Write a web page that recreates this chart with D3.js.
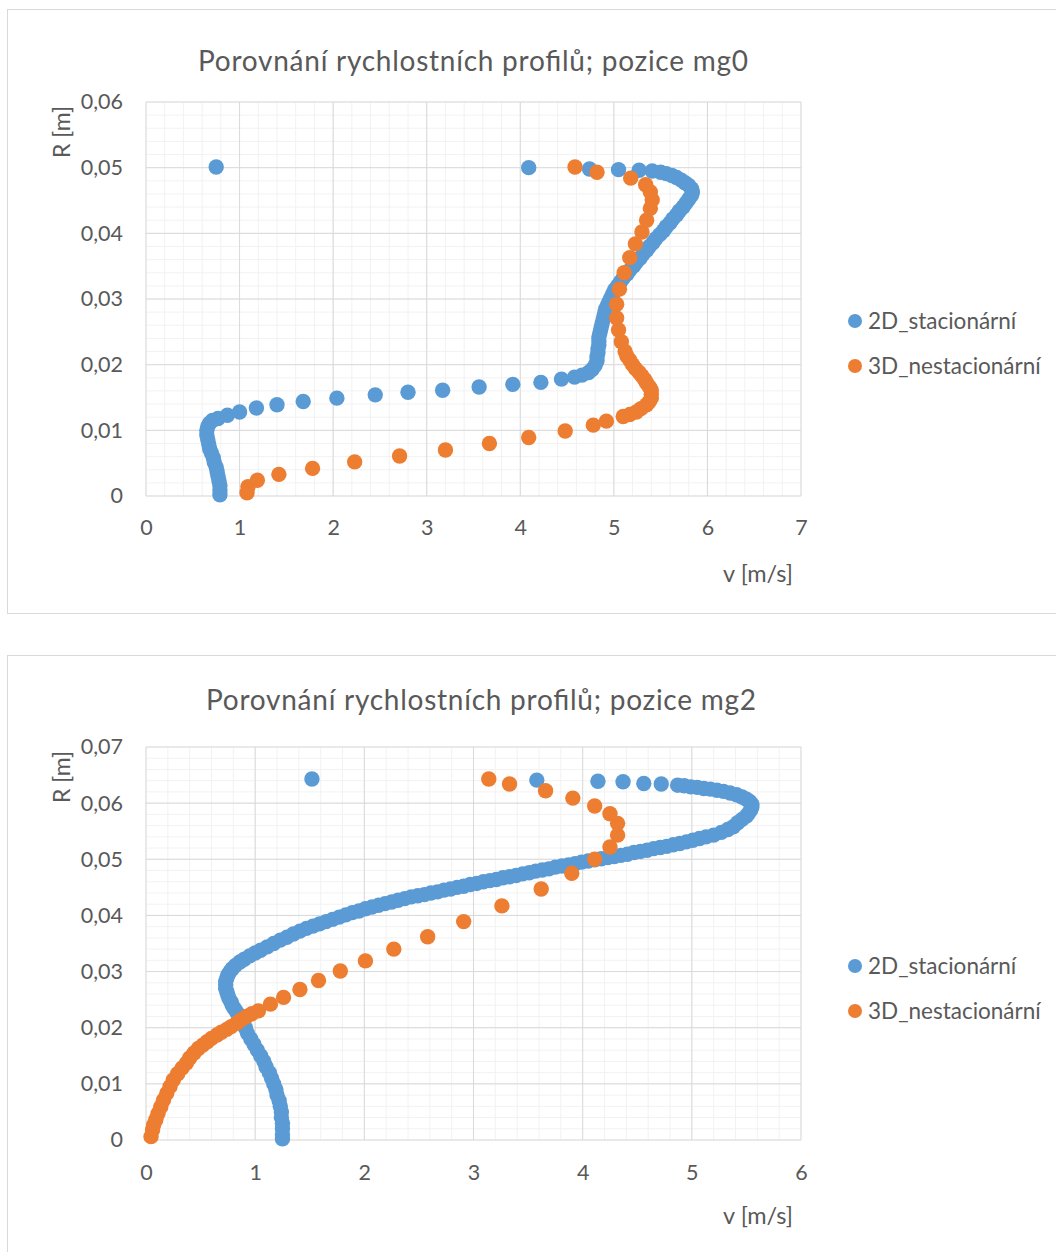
<!DOCTYPE html>
<html><head><meta charset="utf-8">
<script src="https://cdn.jsdelivr.net/npm/d3@7/dist/d3.min.js"></script>
<style>
body{margin:0;background:#fff}
text{font-family:Lato,"Open Sans",sans-serif;fill:#595959}
</style>
</head><body>
<svg id="c" width="1056" height="1252"></svg>
<script>
// ---------- data ----------
const seriesNames = ["2D_stacionární", "3D_nestacionární"];
const titles = ["Porovnání rychlostních profilů; pozice mg0", "Porovnání rychlostních profilů; pozice mg2"];
const xAxisTitle = "v [m/s]";
const yAxisTitle = "R [m]";

const mg0_xTicks = [0,1,2,3,4,5,6,7];
const mg0_xLabels = ["0","1","2","3","4","5","6","7"];
const mg0_yTicks = [0,0.01,0.02,0.03,0.04,0.05,0.06];
const mg0_yLabels = ["0","0,01","0,02","0,03","0,04","0,05","0,06"];

const mg2_xTicks = [0,1,2,3,4,5,6];
const mg2_xLabels = ["0","1","2","3","4","5","6"];
const mg2_yTicks = [0,0.01,0.02,0.03,0.04,0.05,0.06,0.07];
const mg2_yLabels = ["0","0,01","0,02","0,03","0,04","0,05","0,06","0,07"];

// [v, R]
const mg0_2D = [
[0.79,0.0002],[0.79,0.0009],[0.79,0.0016],[0.78,0.0023],[0.77,0.0030],[0.76,0.0037],[0.75,0.0044],[0.73,0.0051],
[0.72,0.0058],[0.70,0.0065],[0.68,0.0072],[0.67,0.0079],[0.66,0.0086],[0.65,0.0093],[0.65,0.0100],[0.66,0.0106],
[0.68,0.0111],[0.71,0.0115],
[0.77,0.0118],[0.87,0.0123],[1.00,0.0128],[1.18,0.0134],[1.40,0.0139],[1.68,0.0144],[2.04,0.0149],[2.45,0.0154],
[2.80,0.0158],[3.17,0.0161],[3.56,0.0166],[3.92,0.0170],[4.22,0.0173],[4.44,0.0178],
[4.58,0.0181],[4.66,0.0184],[4.73,0.0188],[4.77,0.0193],[4.80,0.0199],[4.82,0.0206],[4.82,0.0212],[4.83,0.0218],
[4.83,0.0224],[4.84,0.0230],[4.84,0.0236],[4.84,0.0242],[4.85,0.0248],[4.86,0.0254],[4.87,0.0260],[4.88,0.0266],
[4.89,0.0272],[4.90,0.0278],[4.91,0.0284],[4.93,0.0290],[4.95,0.0296],[4.97,0.0302],[4.99,0.0308],[5.01,0.0314],
[5.04,0.0320],[5.07,0.0326],[5.10,0.0332],[5.14,0.0338],[5.17,0.0344],[5.21,0.0350],[5.24,0.0356],[5.28,0.0362],
[5.31,0.0368],[5.35,0.0374],[5.38,0.0380],[5.42,0.0386],[5.45,0.0392],[5.49,0.0398],[5.53,0.0404],[5.56,0.0410],
[5.60,0.0416],[5.63,0.0422],[5.67,0.0428],[5.70,0.0434],[5.74,0.0440],[5.77,0.0446],[5.80,0.0452],[5.83,0.0458],
[5.84,0.0463],[5.83,0.0468],[5.80,0.0473],[5.76,0.0477],[5.72,0.0481],[5.67,0.0485],[5.62,0.0488],[5.56,0.0491],
[5.50,0.0493],
[5.41,0.0495],[5.27,0.0496],[5.05,0.0497],[4.74,0.0498],[4.09,0.0500],[0.75,0.0501]
];
const mg0_3D = [
[1.08,0.0005],[1.09,0.0014],[1.19,0.0024],[1.42,0.0033],[1.78,0.0042],[2.23,0.0052],[2.71,0.0061],[3.20,0.0070],
[3.67,0.0080],[4.09,0.0089],[4.48,0.0099],[4.78,0.0108],[4.92,0.0114],[5.10,0.0121],[5.17,0.0124],[5.24,0.0128],
[5.29,0.0133],[5.35,0.0139],[5.38,0.0144],[5.40,0.0149],[5.40,0.0155],[5.40,0.0161],[5.38,0.0166],[5.35,0.0172],
[5.33,0.0177],[5.30,0.0183],[5.27,0.0188],[5.23,0.0194],[5.20,0.0200],[5.17,0.0207],[5.14,0.0213],[5.12,0.0220],
[5.08,0.0235],[5.05,0.0253],[5.03,0.0271],[5.03,0.0292],[5.06,0.0315],[5.11,0.0340],[5.17,0.0363],[5.23,0.0384],
[5.30,0.0402],[5.35,0.0420],[5.39,0.0438],[5.41,0.0451],[5.39,0.0463],[5.34,0.0474],[5.18,0.0484],[4.82,0.0493],
[4.585,0.0501]
];
const mg2_2D = [
[1.25,0.0002],[1.25,0.0010],[1.25,0.0020],[1.25,0.0030],[1.24,0.0040],[1.24,0.0050],[1.23,0.0060],[1.22,0.0070],
[1.20,0.0080],[1.19,0.0090],[1.17,0.0100],[1.15,0.0110],[1.13,0.0120],[1.10,0.0130],[1.08,0.0140],[1.05,0.0150],
[1.02,0.0160],[0.99,0.0170],[0.96,0.0180],[0.93,0.0190],[0.91,0.0200],[0.89,0.0209],[0.87,0.0216],[0.85,0.0222],
[0.83,0.0228],[0.81,0.0234],[0.79,0.0240],[0.78,0.0246],[0.76,0.0252],[0.75,0.0258],[0.74,0.0264],[0.73,0.0270],
[0.73,0.0276],[0.73,0.0282],[0.74,0.0288],[0.75,0.0294],[0.77,0.0300],[0.79,0.0305],[0.82,0.0311],[0.86,0.0317],
[0.90,0.0322],[0.95,0.0328],[1.00,0.0333],[1.05,0.0338],[1.11,0.0344],[1.17,0.0350],[1.23,0.0356],[1.29,0.0361],
[1.35,0.0367],[1.41,0.0372],[1.47,0.0377],[1.53,0.0381],[1.59,0.0385],[1.65,0.0389],[1.71,0.0393],[1.77,0.0397],
[1.83,0.0401],[1.89,0.0405],[1.95,0.0408],[2.01,0.0412],[2.07,0.0415],[2.13,0.0418],[2.19,0.0421],[2.25,0.0424],
[2.31,0.0427],[2.37,0.0430],[2.43,0.0433],[2.49,0.0435],[2.55,0.0437],[2.61,0.0440],[2.67,0.0442],[2.73,0.0445],
[2.79,0.0447],[2.85,0.0450],[2.91,0.0452],[2.97,0.0455],[3.03,0.0457],[3.09,0.0460],[3.15,0.0462],[3.21,0.0464],
[3.27,0.0467],[3.33,0.0469],[3.39,0.0471],[3.45,0.0474],[3.51,0.0476],[3.57,0.0479],[3.63,0.0481],[3.69,0.0483],
[3.75,0.0486],[3.81,0.0488],[3.87,0.0490],[3.93,0.0492],[3.99,0.0495],[4.05,0.0497],[4.11,0.0499],[4.17,0.0501],
[4.23,0.0503],[4.29,0.0505],[4.35,0.0507],[4.41,0.0509],[4.47,0.0512],[4.53,0.0514],[4.59,0.0516],[4.65,0.0519],
[4.71,0.0521],[4.77,0.0523],[4.83,0.0526],[4.89,0.0528],[4.95,0.0531],[5.01,0.0534],[5.07,0.0537],[5.13,0.0540],
[5.20,0.0543],[5.27,0.0548],[5.33,0.0553],[5.38,0.0558],[5.42,0.0565],[5.46,0.0571],[5.50,0.0577],[5.52,0.0582],
[5.54,0.0588],[5.55,0.0593],[5.55,0.0598],[5.53,0.0603],[5.50,0.0607],[5.46,0.0611],[5.41,0.0615],[5.35,0.0618],
[5.29,0.0621],[5.23,0.0623],[5.17,0.0625],[5.11,0.0626],[5.05,0.0628],[4.99,0.0629],[4.93,0.0631],
[4.87,0.0632],[4.72,0.0634],[4.56,0.0635],[4.37,0.0638],[4.14,0.0639],[3.58,0.0641],[1.52,0.0643]
];
const mg2_3D = [
[0.046,0.0006],[0.06,0.0018],[0.07,0.0027],[0.09,0.0036],[0.11,0.0047],[0.135,0.0059],[0.16,0.0071],[0.19,0.0083],
[0.22,0.0095],[0.25,0.0107],[0.29,0.0118],[0.33,0.0128],[0.37,0.0137],[0.40,0.0146],[0.44,0.0155],[0.48,0.0163],
[0.52,0.0169],[0.56,0.0175],[0.60,0.0181],[0.65,0.0187],[0.69,0.0192],[0.74,0.0197],[0.78,0.0202],[0.83,0.0208],
[0.87,0.0214],[0.92,0.0220],[0.97,0.0225],[1.03,0.0230],[1.14,0.0242],[1.26,0.0254],[1.41,0.0268],[1.58,0.0284],
[1.78,0.0301],[2.01,0.0319],[2.27,0.0340],[2.58,0.0362],[2.91,0.0389],[3.26,0.0417],[3.62,0.0447],[3.90,0.0475],
[4.11,0.0500],[4.25,0.0522],[4.32,0.0543],[4.32,0.0564],[4.25,0.0581],[4.11,0.0595],[3.91,0.0609],[3.66,0.0622],
[3.33,0.0634],[3.14,0.0643]
];

// ---------- drawing ----------
const colors = ["#5b9bd5", "#ed7d31"];
const svg = d3.select("#c");

function drawChart(cfg) {
  const g = svg.append("g");
  // chart frame
  g.append("rect").attr("x", 7.5).attr("y", cfg.frameTop + 0.5).attr("width", 1070).attr("height", cfg.frameH)
    .attr("fill", "#fff").attr("stroke", "#d9d9d9").attr("stroke-width", 1);

  const x = d3.scaleLinear().domain(cfg.xDomain).range([146, 801]);
  const y = d3.scaleLinear().domain(cfg.yDomain).range([cfg.plotBottom, cfg.plotTop]);

  // minor grid
  const xMinor = d3.range(cfg.xDomain[0], cfg.xDomain[1] + 1e-9, 0.2);
  const yMinor = d3.range(cfg.yDomain[0], cfg.yDomain[1] + 1e-9, 0.002);
  g.append("g").selectAll("line").data(xMinor).join("line")
    .attr("x1", d => x(d)).attr("x2", d => x(d)).attr("y1", y.range()[0]).attr("y2", y.range()[1])
    .attr("stroke", "#f2f2f2").attr("stroke-width", 1);
  g.append("g").selectAll("line").data(yMinor).join("line")
    .attr("y1", d => y(d)).attr("y2", d => y(d)).attr("x1", x.range()[0]).attr("x2", x.range()[1])
    .attr("stroke", "#f2f2f2").attr("stroke-width", 1);
  // major grid
  g.append("g").selectAll("line").data(cfg.xTicks).join("line")
    .attr("x1", d => x(d)).attr("x2", d => x(d)).attr("y1", y.range()[0]).attr("y2", y.range()[1])
    .attr("stroke", "#d9d9d9").attr("stroke-width", 1);
  g.append("g").selectAll("line").data(cfg.yTicks).join("line")
    .attr("y1", d => y(d)).attr("y2", d => y(d)).attr("x1", x.range()[0]).attr("x2", x.range()[1])
    .attr("stroke", "#d9d9d9").attr("stroke-width", 1);

  // axes
  const xa = g.append("g").attr("transform", `translate(0,${cfg.plotBottom})`)
    .call(d3.axisBottom(x).tickValues(cfg.xTicks).tickFormat((d, i) => cfg.xLabels[i]).tickSize(0).tickPadding(cfg.xPad));
  const ya = g.append("g").attr("transform", `translate(146,0)`)
    .call(d3.axisLeft(y).tickValues(cfg.yTicks).tickFormat((d, i) => cfg.yLabels[i]).tickSize(0).tickPadding(23));
  [xa, ya].forEach(a => {
    a.select(".domain").remove();
    a.selectAll("text").attr("font-family", "Lato, 'Open Sans', sans-serif").attr("font-size", 21.5).attr("fill", "#595959");
  });

  // series
  cfg.series.forEach((s, i) => {
    g.append("g").selectAll("circle").data(s).join("circle")
      .attr("cx", d => x(d[0])).attr("cy", d => y(d[1])).attr("r", 7.7).attr("fill", colors[i]);
  });

  // title
  g.append("text").attr("x", cfg.titleX).attr("y", cfg.titleY).attr("text-anchor", "middle")
    .attr("font-size", 28).attr("textLength", 550).attr("lengthAdjust", "spacing").text(cfg.title);
  // axis titles
  g.append("text").attr("x", 758).attr("y", cfg.xTitleY).attr("text-anchor", "middle")
    .attr("font-size", 23.5).text(xAxisTitle);
  g.append("text").attr("transform", `translate(70,${cfg.yTitleY}) rotate(-90)`).attr("text-anchor", "middle")
    .attr("font-size", 23).text(yAxisTitle);

  // legend
  seriesNames.forEach((n, i) => {
    const ly = cfg.legendY + i * 45;
    g.append("circle").attr("cx", 855).attr("cy", ly).attr("r", 7).attr("fill", colors[i]);
    g.append("text").attr("x", 868).attr("y", ly + 8).attr("font-size", 22.5).text(n);
  });
}

drawChart({
  frameTop: 9, frameH: 604, plotTop: 102, plotBottom: 496,
  xDomain: [0, 7], yDomain: [0, 0.06],
  xTicks: mg0_xTicks, xLabels: mg0_xLabels, yTicks: mg0_yTicks, yLabels: mg0_yLabels,
  series: [mg0_2D, mg0_3D], xPad: 24,
  title: titles[0], titleX: 473, titleY: 71, xTitleY: 582, yTitleY: 132, legendY: 321
});
drawChart({
  frameTop: 655, frameH: 700, plotTop: 747, plotBottom: 1140,
  xDomain: [0, 6], yDomain: [0, 0.07],
  xTicks: mg2_xTicks, xLabels: mg2_xLabels, yTicks: mg2_yTicks, yLabels: mg2_yLabels,
  series: [mg2_2D, mg2_3D], xPad: 25,
  title: titles[1], titleX: 481, titleY: 710, xTitleY: 1224, yTitleY: 777, legendY: 966
});
</script>
</body></html>
